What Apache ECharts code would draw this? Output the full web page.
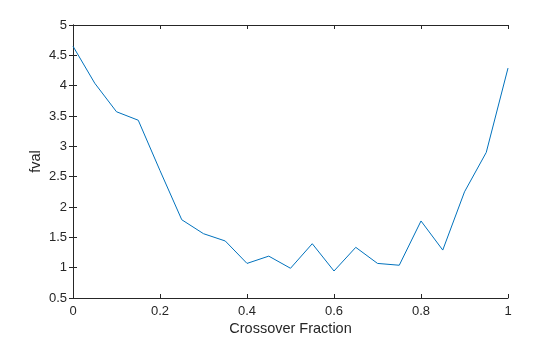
<!DOCTYPE html>
<html><head><meta charset="utf-8">
<script src="https://cdn.jsdelivr.net/npm/echarts@6/dist/echarts.min.js"></script>
<style>html,body{margin:0;padding:0;background:#fff}#c{width:560px;height:337px}</style>
</head><body><div id="c"></div>
<script>
const xVals = [0,0.05,0.1,0.15,0.2,0.25,0.3,0.35,0.4,0.45,0.5,0.55,0.6,0.65,0.7,0.75,0.8,0.85,0.9,0.95,1];
const fval = [4.65,4.04,3.57,3.43,2.6,1.79,1.56,1.44,1.07,1.19,0.99,1.395,0.945,1.335,1.07,1.04,1.77,1.29,2.25,2.9,4.29];
const xName = 'Crossover Fraction';
const yName = 'fval';
const font = 'Liberation Sans, Arial, sans-serif';
const txt = '#262626';
const axLine = {show:true, lineStyle:{color:'#262626', width:1}};
const chart = echarts.init(document.getElementById('c'));
const fmt = v => String(Math.round(v*10)/10);
chart.setOption({
  animation:false,
  grid:{left:73, right:52, top:25, bottom:39, show:false, containLabel:false, outerBoundsMode:'none'},
  xAxis:[{type:'value', min:0, max:1, interval:0.2, position:'bottom',
    name:xName, nameLocation:'middle', nameGap:23, nameMoveOverlap:false,
    nameTextStyle:{fontFamily:font, fontSize:14.5, color:txt},
    axisLine:axLine, axisTick:{inside:true, length:4, lineStyle:{color:'#262626'}},
    axisLabel:{fontFamily:font, fontSize:13, color:txt, margin:7, formatter:fmt},
    splitLine:{show:false}},
   {type:'value', min:0, max:1, interval:0.2, position:'top',
    axisLine:axLine, axisTick:{inside:true, length:4, lineStyle:{color:'#262626'}},
    axisLabel:{show:false}, splitLine:{show:false}}],
  yAxis:[{type:'value', min:0.5, max:5, interval:0.5, position:'left',
    name:yName, nameLocation:'middle', nameGap:30, nameRotate:90, nameMoveOverlap:false,
    nameTextStyle:{fontFamily:font, fontSize:14.5, color:txt},
    axisLine:axLine, axisTick:{inside:true, length:4, lineStyle:{color:'#262626'}},
    axisLabel:{fontFamily:font, fontSize:13, color:txt, margin:6, formatter:fmt},
    splitLine:{show:false}},
   {type:'value', min:0.5, max:5, interval:0.5, position:'right',
    axisLine:axLine, axisTick:{inside:true, length:4, lineStyle:{color:'#262626'}},
    axisLabel:{show:false}, splitLine:{show:false}}],
  series:[{type:'line', data:xVals.map((x,i)=>[x,fval[i]]), showSymbol:false,
    lineStyle:{color:'#0072BD', width:1}, xAxisIndex:0, yAxisIndex:0}]
});
</script></body></html>
